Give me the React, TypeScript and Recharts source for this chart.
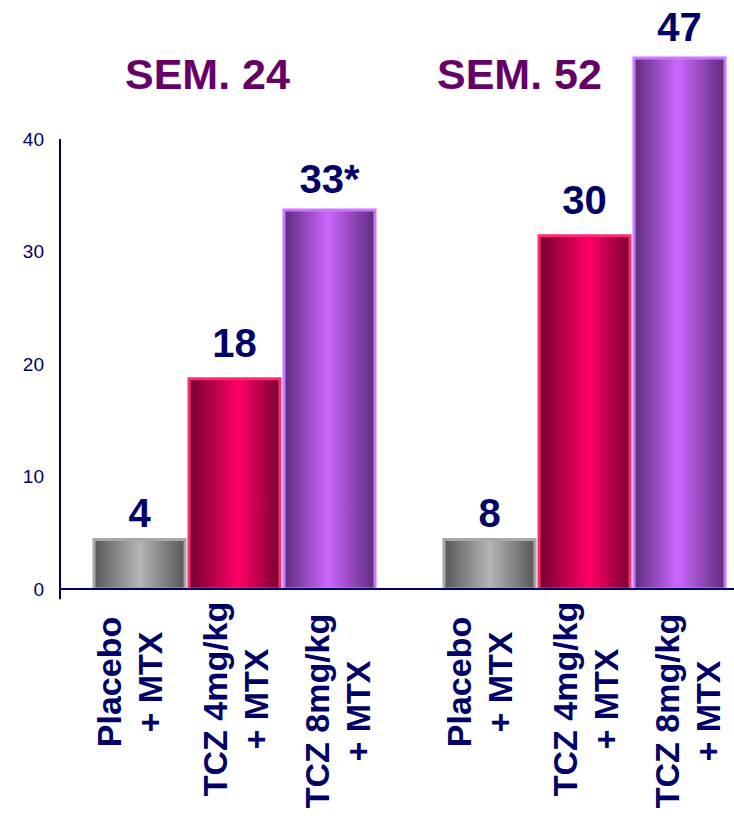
import { BarChart, Bar, XAxis, YAxis, ReferenceLine, LabelList } from "recharts";

const groups = ["SEM. 24", "SEM. 52"];
const placebo = [4.4, 4.4];
const tcz4 = [18.7, 31.4];
const tcz8 = [33.7, 47.2];
const placeboLabels = ["4", "8"];
const tcz4Labels = ["18", "30"];
const tcz8Labels = ["33*", "47"];
const categories = [
  ["Placebo", "+ MTX"],
  ["TCZ 4mg/kg", "+ MTX"],
  ["TCZ 8mg/kg", "+ MTX"],
];
const yTicks = [0, 10, 20, 30, 40];
const groupEdges = [0, 1, 2];

const data = groups.map((g, i) => ({
  group: g,
  placebo: placebo[i],
  tcz4: tcz4[i],
  tcz8: tcz8[i],
  placeboLbl: placeboLabels[i],
  tcz4Lbl: tcz4Labels[i],
  tcz8Lbl: tcz8Labels[i],
}));

const NAVY = "#000066";
const FONT = "'Liberation Sans', Arial, sans-serif";

// rotated two-line category label under each bar
const catLabel = (lines: string[], shift: number, drop: number) => (props: any) => {
  const cx = Number(props.x) + Number(props.width) / 2 + shift;
  const cy = Number(props.y) + Number(props.height) + drop;
  return (
    <g transform={`translate(${cx},${cy}) rotate(-90)`}>
      <text x={0} y={0} textAnchor="middle" fill={NAVY} fontSize={34} fontWeight="bold" fontFamily={FONT}>
        {lines[0]}
      </text>
      <text x={0} y={41} textAnchor="middle" fill={NAVY} fontSize={34} fontWeight="bold" fontFamily={FONT}>
        {lines[1]}
      </text>
    </g>
  );
};

const valueStyle = { fill: NAVY, fontSize: 40, fontWeight: "bold", fontFamily: FONT };
const titleStyle = {
  position: "absolute" as const,
  top: 53,
  fontSize: 43,
  lineHeight: "42px",
  fontWeight: "bold",
  color: "#660066",
  fontFamily: FONT,
  whiteSpace: "nowrap" as const,
};

export default function App() {
  return (
    <div style={{ position: "absolute", left: 0, top: 0, width: 734, height: 819, overflow: "hidden", background: "#fff" }}>
      <BarChart
        width={760}
        height={819}
        data={data}
        margin={{ top: 49, right: 0, bottom: 0, left: 0 }}
        barCategoryGap={34}
        barGap={4}
        style={{ fontFamily: FONT }}
      >
        <defs>
          <linearGradient id="gGrey" x1="0" y1="0" x2="1" y2="0">
            <stop offset="0%" stopColor="#575757" />
            <stop offset="50%" stopColor="#b5b5b5" />
            <stop offset="100%" stopColor="#575757" />
          </linearGradient>
          <linearGradient id="gRed" x1="0" y1="0" x2="1" y2="0">
            <stop offset="0%" stopColor="#75002e" />
            <stop offset="55%" stopColor="#ff0066" />
            <stop offset="100%" stopColor="#7a0030" />
          </linearGradient>
          <linearGradient id="gPurple" x1="0" y1="0" x2="1" y2="0">
            <stop offset="0%" stopColor="#5e2c7c" />
            <stop offset="48%" stopColor="#cc66ff" />
            <stop offset="100%" stopColor="#5e2c7c" />
          </linearGradient>
        </defs>
        <XAxis dataKey="group" tick={false} tickLine={false} height={230} axisLine={{ stroke: NAVY, strokeWidth: 2 }} />
        <XAxis xAxisId="n" type="number" domain={[0, 2]} allowDataOverflow hide />
        <YAxis
          width={60}
          domain={[0, 48]}
          ticks={yTicks}
          allowDataOverflow
          axisLine={false}
          tickLine={false}
          tickSize={0}
          tickMargin={16}
          tick={{ fill: NAVY, fontSize: 19, fontFamily: FONT }}
        />
        <ReferenceLine
          xAxisId="n"
          segment={[{ x: 0, y: 0 }, { x: 0, y: 40 }]}
          stroke={NAVY}
          strokeWidth={2}
          ifOverflow="visible"
        />
        {groupEdges.map((e) => (
          <ReferenceLine
            key={e}
            xAxisId="n"
            segment={[{ x: e, y: 0 }, { x: e, y: -0.9 }]}
            stroke={NAVY}
            strokeWidth={2}
            ifOverflow="visible"
          />
        ))}
        <Bar dataKey="placebo" fill="url(#gGrey)" stroke="#a8a8a8" strokeWidth={3} isAnimationActive={false}>
          <LabelList dataKey="placeboLbl" position="top" offset={13} {...valueStyle} />
          <LabelList dataKey="placebo" content={catLabel(categories[0], -19, 93)} />
        </Bar>
        <Bar dataKey="tcz4" fill="url(#gRed)" stroke="#ff2a70" strokeWidth={3} isAnimationActive={false}>
          <LabelList dataKey="tcz4Lbl" position="top" offset={22} {...valueStyle} />
          <LabelList dataKey="tcz4" content={catLabel(categories[1], -8, 110)} />
        </Bar>
        <Bar dataKey="tcz8" fill="url(#gPurple)" stroke="#cc77ff" strokeWidth={3} isAnimationActive={false}>
          <LabelList dataKey="tcz8Lbl" position="top" offset={17} {...valueStyle} />
          <LabelList dataKey="tcz8" content={catLabel(categories[2], -1, 122)} />
        </Bar>
      </BarChart>
      <div style={{ ...titleStyle, left: 125 }}>{groups[0]}</div>
      <div style={{ ...titleStyle, left: 437 }}>{groups[1]}</div>
    </div>
  );
}
